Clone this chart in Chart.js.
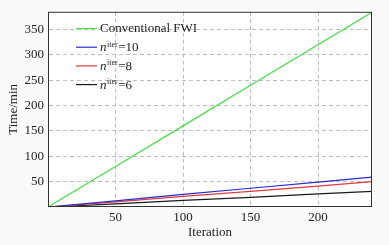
<!DOCTYPE html>
<html>
<head>
<meta charset="utf-8">
<script src="https://cdn.jsdelivr.net/npm/chart.js@4/dist/chart.umd.min.js"></script>
<style>
  html, body { margin: 0; padding: 0; background: #fafafa; }
  #wrap { width: 389px; height: 245px; }
</style>
</head>
<body>
<div id="wrap"><canvas id="chart" width="389" height="245"></canvas></div>
<script>
// Values
const iterations = [0, 50, 100, 150, 200, 240];
const fwiTime = [0, 80, 160, 240, 320, 384];
const iter10Time = [0, 12, 25, 37, 49, 59];
const iter8Time = [0, 10, 21, 31, 41, 50];
const iter6Time = [0, 6, 13, 19, 26, 31];

const xTicks = [50, 100, 150, 200];
const yTicks = [50, 100, 150, 200, 250, 300, 350];

const seriesNames = [
    { main: 'Conventional FWI', sup: '', tail: '' },
    { main: 'n', sup: 'iter', tail: '=10' },
    { main: 'n', sup: 'iter', tail: '=8' },
    { main: 'n', sup: 'iter', tail: '=6' }
];
const seriesColors = ['#44dd44', '#2a2ad0', '#e03a3a', '#1a1a1a'];
const seriesValues = [fwiTime, iter10Time, iter8Time, iter6Time];

const FONT = '"Liberation Serif", serif';

function toPoints(values) {
    return values.map((v, i) => ({ x: iterations[i], y: v }));
}

// White plot area + frame + legend in the top-left corner
const framePlugin = {
    id: 'frame',
    beforeDraw(chart) {
        const { ctx, chartArea: a } = chart;
        ctx.save();
        ctx.fillStyle = '#ffffff';
        ctx.fillRect(a.left, a.top, a.right - a.left, a.bottom - a.top);
        ctx.restore();
    },
    afterDraw(chart) {
        const { ctx, chartArea: a } = chart;
        ctx.save();
        ctx.strokeStyle = '#333333';
        ctx.lineWidth = 1;
        ctx.strokeRect(a.left + 0.5, a.top + 0.5, a.right - a.left - 1, a.bottom - a.top - 1);

        // legend
        const x0 = 76, x1 = 97, tx = 100;
        let y = 28;
        ctx.textBaseline = 'middle';
        chart.data.datasets.forEach((ds, i) => {
            ctx.strokeStyle = ds.borderColor;
            ctx.lineWidth = 1.2;
            ctx.beginPath();
            ctx.moveTo(x0, y + 0.5);
            ctx.lineTo(x1, y + 0.5);
            ctx.stroke();

            const name = seriesNames[i];
            ctx.fillStyle = '#222222';
            let cx = tx;
            if (name.sup) {
                ctx.font = 'italic 13px ' + FONT;
                ctx.fillText(name.main, cx, y + 1);
                cx += ctx.measureText(name.main).width + 0.5;
                ctx.font = '8px ' + FONT;
                ctx.fillText(name.sup, cx, y - 2);
                cx += ctx.measureText(name.sup).width + 0.5;
                ctx.font = '13px ' + FONT;
                ctx.fillText(name.tail, cx, y + 1);
            } else {
                ctx.font = '13px ' + FONT;
                ctx.fillText(name.main, cx, y + 1);
            }
            y += 18.7;
        });
        ctx.restore();
    }
};

function makeChart() {
    new Chart(document.getElementById('chart').getContext('2d'), {
        type: 'line',
        data: {
            datasets: seriesValues.map((vals, i) => ({
                label: seriesNames[i].main + seriesNames[i].sup + seriesNames[i].tail,
                data: toPoints(vals),
                borderColor: seriesColors[i],
                borderWidth: 1.2,
                pointRadius: 0,
                fill: false,
                tension: 0
            }))
        },
        options: {
            responsive: false,
            animation: false,
            layout: { padding: { left: 0, right: 17, top: 9, bottom: 0 } },
            plugins: {
                legend: { display: false },
                tooltip: { enabled: false }
            },
            scales: {
                x: {
                    type: 'linear',
                    min: 0,
                    max: 240,
                    afterBuildTicks: (scale) => { scale.ticks = xTicks.map(v => ({ value: v })); },
                    afterFit: (scale) => { scale.height = 38; },
                    grid: { color: '#bdbdbd', lineWidth: 1, drawTicks: false },
                    border: { display: true, color: 'rgba(0,0,0,0)', dash: [4, 3] },
                    ticks: {
                        color: '#222',
                        font: { family: FONT, size: 13 },
                        padding: 3,
                        maxRotation: 0
                    },
                    title: {
                        display: true,
                        text: 'Iteration',
                        color: '#222',
                        font: { family: FONT, size: 13 },
                        padding: { top: 0, bottom: 5 }
                    }
                },
                y: {
                    type: 'linear',
                    min: 0,
                    max: 385,
                    afterBuildTicks: (scale) => { scale.ticks = yTicks.map(v => ({ value: v })); },
                    afterFit: (scale) => { scale.width = 48; },
                    grid: { color: '#bdbdbd', lineWidth: 1, drawTicks: false },
                    border: { display: true, color: 'rgba(0,0,0,0)', dash: [4, 3] },
                    ticks: {
                        color: '#222',
                        font: { family: FONT, size: 13 },
                        padding: 4
                    },
                    title: {
                        display: true,
                        text: 'Time/min',
                        color: '#222',
                        font: { family: FONT, size: 13 },
                        padding: { top: 6, bottom: 0 }
                    }
                }
            }
        },
        plugins: [framePlugin]
    });
}

Promise.all([
    document.fonts.load('13px "Liberation Serif"'),
    document.fonts.load('italic 13px "Liberation Serif"')
]).then(makeChart, makeChart);
</script>
</body>
</html>
